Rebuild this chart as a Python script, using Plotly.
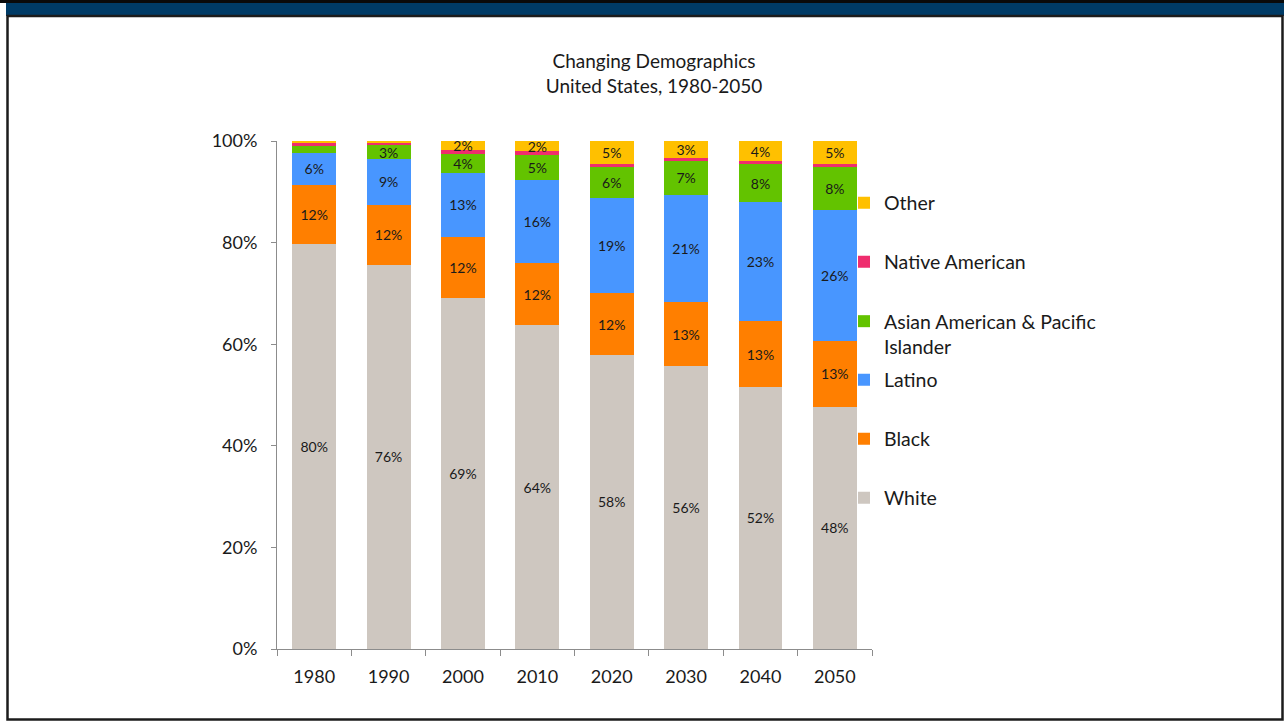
import plotly.graph_objects as go

W, H = 1284, 721
ML, MR, MT, MB = 277, 412, 141, 72

years = ["1980", "1990", "2000", "2010", "2020", "2030", "2040", "2050"]

white = [79.8, 75.6, 69.1, 63.7, 57.9, 55.7, 51.6, 47.7]
black = [11.5, 11.9, 12.1, 12.3, 12.1, 12.6, 12.9, 13.0]
latino = [6.4, 8.9, 12.5, 16.4, 18.7, 21.1, 23.4, 25.8]
asian = [1.4, 2.8, 3.8, 4.8, 6.1, 6.7, 7.6, 8.3]
native = [0.6, 0.6, 0.7, 0.8, 0.6, 0.5, 0.5, 0.6]
other = [0.3, 0.2, 1.8, 2.0, 4.6, 3.4, 4.0, 4.6]

y_ticks = [0, 20, 40, 60, 80, 100]
y_labels = ["0%", "20%", "40%", "60%", "80%", "100%"]

series = [
    ("White", white, "#CEC7C0"),
    ("Black", black, "#FF7F00"),
    ("Latino", latino, "#4896FF"),
    ("Asian American & Pacific<br>Islander", asian, "#63C300"),
    ("Native American", native, "#EF2D6E"),
    ("Other", other, "#FFC000"),
]

# legend rows (pixel y of the marker) from bottom to top
legend_rows = [498, 439, 380, 334, 262, 203]

FONT = "Lato, 'Open Sans', sans-serif"
INK = "#1a1a1a"


def px_x(p):
    return (p - ML) / (W - ML - MR)


def px_y(p):
    return (H - MB - p) / (H - MT - MB)


def label(v):
    return f"{int(v + 0.5)}%" if v >= 1.5 else ""


fig = go.Figure()

for i, (name, vals, color) in enumerate(series):
    lg = "legend" if i == 0 else f"legend{i + 1}"
    fig.add_trace(
        go.Bar(
            x=years,
            y=vals,
            name=name,
            marker=dict(color=color, line=dict(width=0)),
            text=[label(v) for v in vals],
            textposition="inside",
            insidetextanchor="middle",
            textangle=0,
            constraintext="none",
            insidetextfont=dict(family=FONT, size=14, color=INK),
            legend=lg,
        )
    )

legends = {}
for i, py in enumerate(legend_rows):
    key = "legend" if i == 0 else f"legend{i + 1}"
    legends[key] = dict(
        x=px_x(844),
        y=px_y(py),
        xanchor="left",
        yanchor="middle",
        valign="top",
        bgcolor="rgba(0,0,0,0)",
        borderwidth=0,
        font=dict(family=FONT, size=19.5, color=INK),
    )

shapes = [
    # dark top strip and navy band
    dict(type="rect", xref="paper", yref="paper",
         x0=px_x(0), x1=px_x(W), y0=px_y(3), y1=px_y(0),
         fillcolor="#0a0a0a", line=dict(width=0), layer="below"),
    dict(type="rect", xref="paper", yref="paper",
         x0=px_x(6), x1=px_x(1284), y0=px_y(16), y1=px_y(3),
         fillcolor="#003B66", line=dict(width=0), layer="below"),
    # slide frame
    dict(type="rect", xref="paper", yref="paper",
         x0=px_x(7.5), x1=px_x(1282.5), y0=px_y(719.5), y1=px_y(16),
         fillcolor="rgba(0,0,0,0)", line=dict(color="#1c1c1c", width=2.5),
         layer="below"),
]

fig.update_layout(
    width=W,
    height=H,
    margin=dict(l=ML, r=MR, t=MT, b=MB),
    paper_bgcolor="white",
    plot_bgcolor="white",
    barmode="stack",
    bargap=0.41,
    showlegend=True,
    font=dict(family=FONT, size=18, color=INK),
    title=dict(
        text="Changing Demographics<br>United States, 1980-2050",
        x=654 / W,
        xanchor="center",
        y=1 - 68 / H,
        yanchor="middle",
        yref="container",
        font=dict(family=FONT, size=19, color=INK),
    ),
    xaxis=dict(
        type="category",
        showgrid=False,
        showline=True,
        linecolor="#8c8c8c",
        linewidth=1,
        ticks="outside",
        tickson="boundaries",
        ticklen=6,
        tickcolor="#8c8c8c",
        ticklabelstandoff=11,
        tickfont=dict(family=FONT, size=18, color=INK),
    ),
    yaxis=dict(
        range=[0, 100],
        tickmode="array",
        tickvals=y_ticks,
        ticktext=y_labels,
        showgrid=False,
        zeroline=False,
        showline=True,
        linecolor="#8c8c8c",
        linewidth=1,
        ticks="outside",
        ticklen=5,
        tickcolor="#8c8c8c",
        ticklabelstandoff=10,
        tickfont=dict(family=FONT, size=18, color=INK),
    ),
    shapes=shapes,
    **legends,
)

fig.write_html(
    "out.html",
    config={"displayModeBar": False},
    post_script="document.body.style.margin='0';",
)
